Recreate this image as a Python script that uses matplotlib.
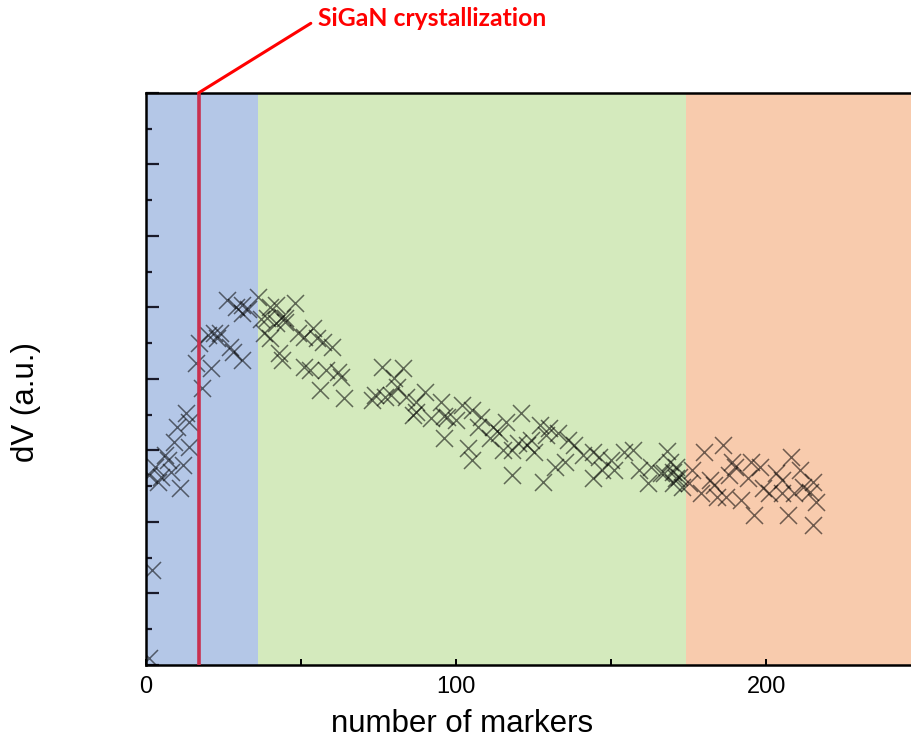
import numpy as np
import matplotlib
matplotlib.use("Agg")
import matplotlib.pyplot as plt

# measured dV per number of markers
markers = [1, 2, 1, 3, 4, 5, 6, 7, 8, 9, 10, 11, 12, 13, 14, 14, 16, 17, 18, 20,
           21, 22, 23, 24, 26, 27, 28, 29, 31, 31, 31, 33, 36,
           37, 38, 39, 40, 40, 42, 42, 43, 44, 44, 45, 45, 48, 49, 51, 51, 53,
           54, 55, 56, 57, 58, 60, 62, 63, 64,
           73, 74, 76, 77, 79, 80, 81, 83, 84, 86, 87, 87, 90, 92, 95, 96, 96,
           97, 100, 102, 104, 105, 105, 107, 108, 111, 112, 114, 115, 116, 118,
           118, 120, 121, 123, 124, 125, 127, 128, 129, 130, 132, 133, 135, 136,
           138, 141, 144, 144, 146, 147, 150, 151, 154, 157, 159, 162, 163, 166,
           167, 168, 169, 170, 171, 170, 171, 172, 173,
           175, 176, 179, 180, 182, 183, 184, 186, 187, 188, 189, 190, 192, 194,
           195, 196, 198, 199, 201, 203, 205, 205, 207, 208, 209, 211, 212, 214,
           215, 215, 216]
dv = [0.10, 1.33, 2.66, 2.76, 2.56, 2.63, 2.94, 2.87, 2.70, 3.12, 3.33, 2.48,
      2.80, 3.52, 3.40, 3.05, 4.22, 4.50, 3.87, 4.62, 4.15, 4.64, 4.57, 4.64,
      5.10, 4.45, 4.38, 5.01, 4.92, 4.27, 5.03, 4.97, 5.15,
      4.83, 4.64, 4.85, 5.01, 4.57, 5.03, 4.78, 4.36, 4.87, 4.27, 4.85, 4.80,
      5.06, 4.64, 4.59, 4.17, 4.13, 4.71, 4.57, 3.85, 4.52, 4.13, 4.45, 4.10,
      4.03, 3.73,
      3.71, 3.78, 4.17, 3.75, 3.78, 4.01, 3.89, 4.15, 3.75, 3.50, 3.68, 3.54,
      3.82, 3.45, 3.68, 3.48, 3.17, 3.47, 3.43, 3.64, 3.03, 3.57, 2.87, 3.33,
      3.47, 3.17, 3.33, 3.24, 3.01, 3.40, 2.66, 3.01, 3.10, 3.52, 3.08, 3.15,
      2.97, 3.36, 2.56, 3.22, 3.31, 2.76, 3.24, 2.84, 3.15, 3.08, 2.94, 2.97,
      2.62, 2.91, 2.73, 2.87, 2.73, 2.98, 3.01, 2.73, 2.55, 2.76, 2.69, 2.69,
      2.99, 2.83, 2.70, 2.77, 2.55, 2.62, 2.63, 2.49,
      2.55, 2.73, 2.41, 2.98, 2.59, 2.52, 2.35, 3.08, 2.35, 2.66, 2.84, 2.76,
      2.31, 2.62, 2.83, 2.10, 2.77, 2.48, 2.41, 2.69, 2.41, 2.59, 2.10, 2.90,
      2.41, 2.73, 2.49, 2.42, 2.56, 1.96, 2.28]

# growth stages along the marker axis
stage_edges = [0, 36, 174, 247]
stage_colors = ["#b4c7e7", "#d4eabd", "#f8cbad"]
crystallization = 17

fig = plt.figure(figsize=(9.12, 7.47), dpi=100)
ax = fig.add_axes([0.160, 0.110, 0.840, 0.7657])

for i, c in enumerate(stage_colors):
    ax.axvspan(stage_edges[i], stage_edges[i + 1], color=c, lw=0, zorder=0)

ax.scatter(markers, dv, marker="x", s=150, color="black", alpha=0.55,
           linewidths=1.1, zorder=2)

ax.axvline(crystallization, color="#c9304f", lw=2.6, zorder=3)

ax.set_xlim(stage_edges[0], stage_edges[-1])
ax.set_ylim(0, 8)
ax.set_xticks([0, 100, 200])
ax.set_xticks([50, 150], minor=True)
ax.set_yticks(np.arange(0, 9, 1))
ax.set_yticks(np.arange(0.5, 8, 1), minor=True)
ax.set_yticklabels([])

ax.tick_params(axis="y", which="major", direction="in", length=9, width=1.6,
               color="#1a1a2a")
ax.tick_params(axis="y", which="minor", direction="in", length=4.5, width=1.6,
               color="#1a1a2a")
ax.tick_params(axis="x", which="both", direction="in", length=4, width=1.4,
               labelsize=17, pad=8)
for lab in ax.get_xticklabels():
    lab.set_family("Liberation Sans")

for side in ["left", "bottom", "top"]:
    ax.spines[side].set_linewidth(1.8)
ax.spines["right"].set_visible(False)

ax.set_xlabel("number of markers", fontsize=22.5, family="Liberation Sans")
ax.xaxis.set_label_coords(0.4125, -0.078)
ax.set_ylabel("dV (a.u.)", fontsize=22.5, family="Liberation Sans")
ax.yaxis.set_label_coords(-0.137, 0.46)

ax.annotate("SiGaN crystallization", xy=(crystallization, 8),
            xycoords="data", xytext=(0.349, 0.975), textcoords="figure fraction",
            ha="left", va="center", color="red", fontsize=17.8, fontweight="bold",
            family="Lato", annotation_clip=False,
            arrowprops=dict(arrowstyle="-", color="red", lw=2.2,
                            shrinkA=4, shrinkB=0, relpos=(0, 0.5)))

fig.savefig("out.png", dpi=100)
